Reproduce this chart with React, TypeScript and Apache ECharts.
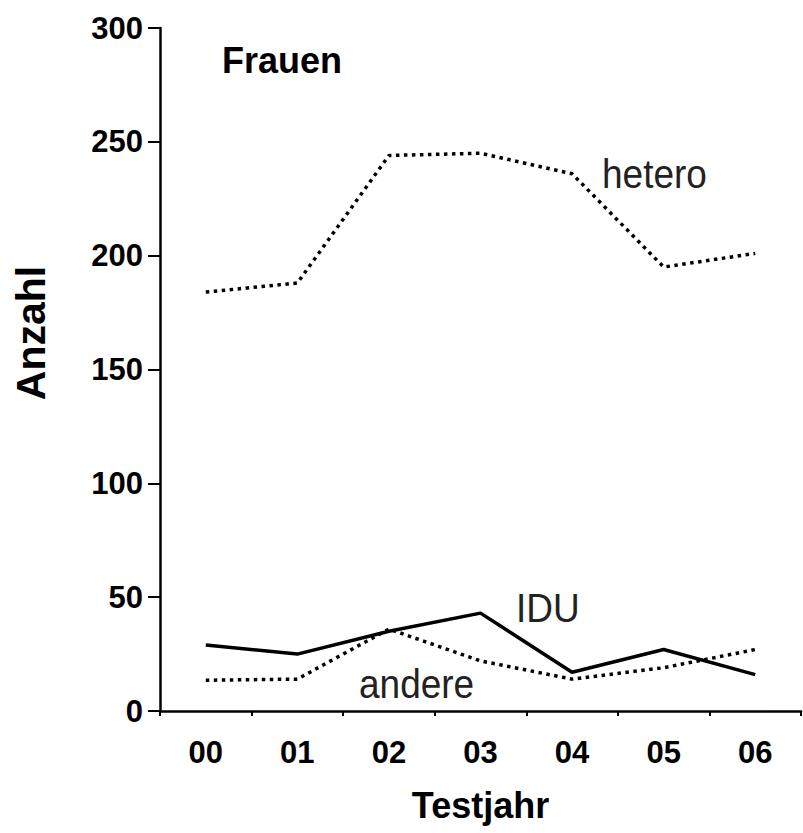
import React, { useEffect, useRef } from "react";
import * as echarts from "echarts";

const categories = ["00", "01", "02", "03", "04", "05", "06"];
const hetero = [184, 188, 244, 245, 236, 195, 201];
const idu = [29, 25, 35, 43, 17, 27, 16];
const andere = [13.5, 14, 36, 22, 14, 19, 27];
const yTicks = { min: 0, max: 300, interval: 50 };

const FONT = "'Liberation Sans', Arial, sans-serif";

export default function App() {
  const ref = useRef<HTMLDivElement>(null);
  useEffect(() => {
    if (!ref.current) return;
    const chart = echarts.init(ref.current, undefined, { renderer: "svg" });
    chart.setOption({
      animation: false,
      backgroundColor: "#fff",
      grid: { left: 160, right: 2, top: 28, bottom: 122 },
      xAxis: {
        type: "category",
        data: categories,
        boundaryGap: true,
        axisLine: { lineStyle: { color: "#000", width: 2.5 } },
        axisTick: { show: true, length: 5, inside: false, lineStyle: { color: "#000", width: 2 } },
        axisLabel: { color: "#000", fontSize: 31, fontWeight: "bold", fontFamily: FONT, margin: 26 },
        name: "Testjahr",
        nameLocation: "middle",
        nameGap: 76,
        nameTextStyle: { color: "#000", fontSize: 36, fontWeight: "bold", fontFamily: FONT },
      },
      yAxis: {
        type: "value",
        min: yTicks.min,
        max: yTicks.max,
        interval: yTicks.interval,
        splitLine: { show: false },
        axisLine: { show: true, lineStyle: { color: "#000", width: 2.5 } },
        axisTick: { show: true, length: 12, lineStyle: { color: "#000", width: 2 } },
        axisLabel: { color: "#000", fontSize: 31, fontWeight: "bold", fontFamily: FONT, margin: 17 },
      },
      graphic: [
        {
          type: "text",
          x: 222,
          y: 60,
          style: {
            text: "Frauen",
            fontSize: 36,
            fontWeight: "bold",
            fontFamily: FONT,
            fill: "#000",
            verticalAlign: "middle",
          },
        },
        {
          type: "text",
          x: 31,
          y: 333,
          rotation: Math.PI / 2,
          style: {
            text: "Anzahl",
            fontSize: 41,
            fontWeight: "bold",
            fontFamily: FONT,
            fill: "#000",
            align: "center",
            verticalAlign: "middle",
          },
        },
        {
          type: "text",
          x: 602,
          y: 174,
          scaleY: 1.1,
          style: { text: "hetero", fontSize: 37, fontFamily: FONT, fill: "#222", verticalAlign: "middle" },
        },
        {
          type: "text",
          x: 516,
          y: 608,
          scaleY: 1.1,
          style: { text: "IDU", fontSize: 37, fontFamily: FONT, fill: "#222", verticalAlign: "middle" },
        },
        {
          type: "text",
          x: 359,
          y: 684,
          scaleY: 1.1,
          style: { text: "andere", fontSize: 37, fontFamily: FONT, fill: "#222", verticalAlign: "middle" },
        },
      ],
      series: [
        {
          name: "hetero",
          type: "line",
          data: hetero,
          symbol: "none",
          lineStyle: { color: "#000", width: 3.5, type: [3.5, 4.5] },
        },
        {
          name: "IDU",
          type: "line",
          data: idu,
          symbol: "none",
          lineStyle: { color: "#000", width: 3.5, type: "solid" },
        },
        {
          name: "andere",
          type: "line",
          data: andere,
          symbol: "none",
          lineStyle: { color: "#000", width: 3.5, type: [3.5, 4.5] },
        },
      ],
    });
    return () => chart.dispose();
  }, []);
  return (
    <div
      ref={ref}
      style={{ position: "absolute", left: 0, top: 0, width: 803, height: 833 }}
    />
  );
}
